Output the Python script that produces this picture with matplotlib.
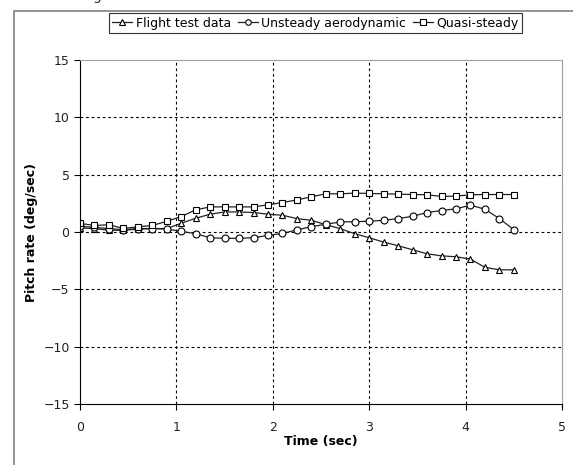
import matplotlib
matplotlib.use("Agg")
import matplotlib.pyplot as plt
from matplotlib.patches import Rectangle

# time base (sec)
time = [0.0, 0.15, 0.3, 0.45, 0.6, 0.75, 0.9, 1.05, 1.2, 1.35, 1.5,
        1.65, 1.8, 1.95, 2.1, 2.25, 2.4, 2.55, 2.7, 2.85, 3.0,
        3.15, 3.3, 3.45, 3.6, 3.75, 3.9, 4.05, 4.2, 4.35, 4.5]

# pitch rate (deg/sec)
flight_test = [0.35, 0.3, 0.15, 0.15, 0.25, 0.3, 0.3, 0.76, 1.2, 1.55, 1.75,
               1.75, 1.7, 1.55, 1.46, 1.17, 1.02, 0.64, 0.29, -0.15, -0.5,
               -0.88, -1.2, -1.55, -1.9, -2.08, -2.16, -2.36, -3.08, -3.3, -3.3]
unsteady = [0.5, 0.4, 0.3, 0.2, 0.3, 0.3, 0.25, 0.06, -0.15, -0.5, -0.55,
            -0.55, -0.5, -0.3, -0.12, 0.18, 0.47, 0.67, 0.88, 0.9, 0.94,
            1.02, 1.17, 1.37, 1.7, 1.87, 2.02, 2.34, 1.99, 1.17, 0.2]
quasi_steady = [0.75, 0.57, 0.63, 0.31, 0.45, 0.57, 0.93, 1.35, 1.93, 2.19, 2.19,
                2.19, 2.19, 2.37, 2.57, 2.8, 3.07, 3.33, 3.33, 3.39, 3.36,
                3.33, 3.3, 3.27, 3.25, 3.1, 3.13, 3.25, 3.27, 3.27, 3.27]

series = [("Flight test data", flight_test, "^"),
          ("Unsteady aerodynamic", unsteady, "o"),
          ("Quasi-steady", quasi_steady, "s")]

plt.rcParams['font.family'] = ['DejaVu Sans']
fig = plt.figure(figsize=(5.73, 4.65), dpi=100)

# outer chart-area frame (cut off at right and bottom)
fig.patches.append(Rectangle((14 / 573, -0.1), 1.2, 1 - 11 / 465 + 0.1,
                             transform=fig.transFigure, fill=False,
                             edgecolor='#808080', linewidth=1.2))
# tail of a caption letter cut off at the top edge
fig.text(97 / 573, 1.0, 'g', ha='center', va='baseline', fontsize=10, color='#333333')

ax = fig.add_axes([80 / 573, 61 / 465, 482 / 573, 344 / 465])

for name, vals, mk in series:
    ax.plot(time, vals, color='#222222', linewidth=0.9, marker=mk, markersize=5,
            markerfacecolor='white', markeredgecolor='black', markeredgewidth=0.8,
            label=name)

ax.set_xlim(0, 5)
ax.set_ylim(-15, 15)
ax.set_xticks([0, 1, 2, 3, 4, 5])
ax.set_yticks([-15, -10, -5, 0, 5, 10, 15])
ax.tick_params(direction='out', length=4, width=0.8, labelsize=9,
               colors='black', labelcolor='#222222')
ax.tick_params(axis='x', pad=8)

for v in [1, 2, 3, 4]:
    ax.axvline(v, color='black', linestyle=(0, (2.5, 2.5)), linewidth=0.8, zorder=0)
for v in [-10, -5, 0, 5, 10]:
    ax.axhline(v, color='black', linestyle=(0, (2.5, 2.5)), linewidth=0.8, zorder=0)

ax.spines['top'].set_color('#a0a0a0')
ax.spines['right'].set_color('#a0a0a0')
ax.spines['left'].set_color('black')
ax.spines['bottom'].set_color('black')

ax.set_xlabel('Time (sec)', fontsize=9, fontweight='bold')
ax.set_ylabel('Pitch rate (deg/sec)', fontsize=9, fontweight='bold')
ax.xaxis.set_label_coords(0.5, (404 - 435) / 344)
ax.yaxis.set_label_coords((38 - 80) / 482, 0.5)

leg = fig.legend(loc='center', bbox_to_anchor=(315.5 / 573, 1 - 23 / 465), ncol=3,
                 fontsize=9, frameon=True, fancybox=False, edgecolor='black',
                 handlelength=1.6, handletextpad=0.3, columnspacing=0.5,
                 borderpad=0.25, numpoints=1, markerscale=0.8)
leg.get_frame().set_linewidth(0.8)

fig.savefig('out.png', dpi=100)
